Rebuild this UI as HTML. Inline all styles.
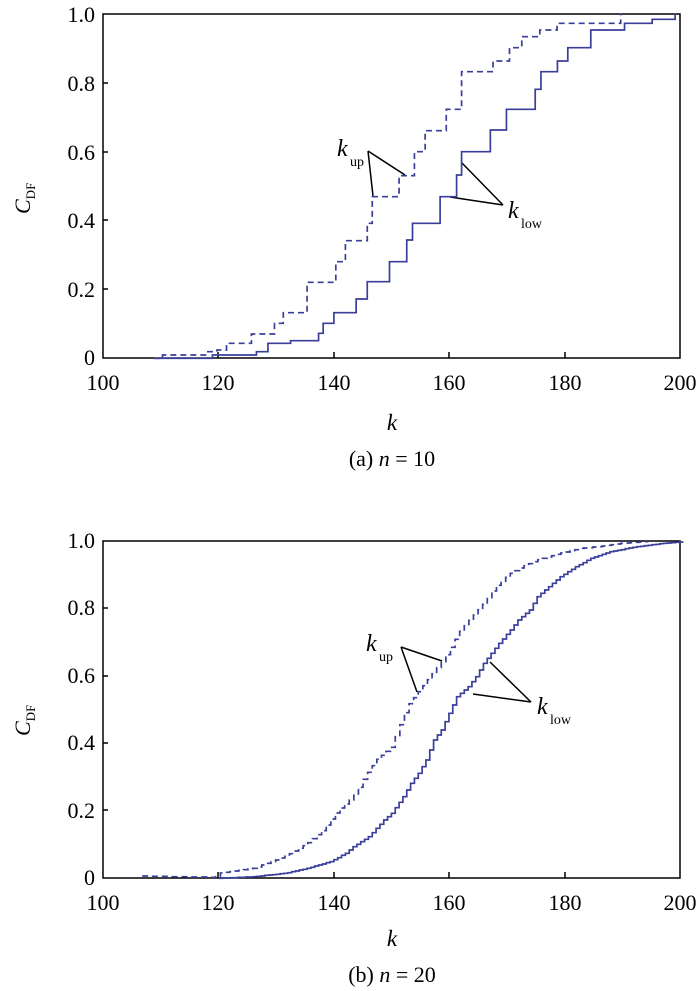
<!DOCTYPE html>
<html><head><meta charset="utf-8"><style>
html,body{margin:0;padding:0;background:#fff}
svg{display:block}
text{font-family:"Liberation Serif",serif;fill:#000}
</style></head><body>
<svg id="s" width="700" height="991" viewBox="0 0 700 991" xmlns="http://www.w3.org/2000/svg">
<g font-size="22" text-anchor="end">
<text x="95" y="22">1.0</text><text x="95" y="91">0.8</text><text x="95" y="160">0.6</text><text x="95" y="228">0.4</text><text x="95" y="297">0.2</text><text x="95" y="365">0</text>
<text x="95" y="548">1.0</text><text x="95" y="615">0.8</text><text x="95" y="683">0.6</text><text x="95" y="750">0.4</text><text x="95" y="818">0.2</text><text x="95" y="885">0</text>
</g>
<g font-size="22" text-anchor="middle">
<text x="103" y="390">100</text><text x="218" y="390">120</text><text x="334" y="390">140</text><text x="449" y="390">160</text><text x="565" y="390">180</text><text x="680" y="390">200</text>
<text x="103" y="910">100</text><text x="218" y="910">120</text><text x="334" y="910">140</text><text x="449" y="910">160</text><text x="565" y="910">180</text><text x="680" y="910">200</text>
<text x="392" y="430" font-style="italic" font-size="23">k</text>
<text x="392" y="946" font-style="italic" font-size="23">k</text>
<text x="392" y="466">(a)  <tspan font-style="italic">n</tspan> = 10</text>
<text x="392" y="982">(b)  <tspan font-style="italic">n</tspan> = 20</text>
</g>
<g font-size="22">
<text transform="translate(30,214) rotate(-90)"><tspan font-style="italic">C</tspan><tspan font-size="13" dy="5">DF</tspan></text>
<text transform="translate(30,736) rotate(-90)"><tspan font-style="italic">C</tspan><tspan font-size="13" dy="5">DF</tspan></text>
<text x="337" y="156" font-style="italic" font-size="24">k</text><text x="350" y="166" font-size="14">up</text>
<text x="508" y="218" font-style="italic" font-size="24">k</text><text x="521" y="228" font-size="14">low</text>
<text x="366" y="651" font-style="italic" font-size="24">k</text><text x="379" y="661" font-size="14">up</text>
<text x="537" y="714" font-style="italic" font-size="24">k</text><text x="550" y="724" font-size="14">low</text>
</g>
<g stroke="#000" stroke-width="1.5" fill="none">
<rect x="103" y="14" width="577" height="344"/>
<rect x="103" y="541" width="577" height="337"/>
<path d="M103 83h5M103 152h5M103 220h5M103 289h5M218 358v-6M334 358v-6M449 358v-6M565 358v-6
M103 608h5M103 676h5M103 743h5M103 810h5M218 878v-6M334 878v-6M449 878v-6M565 878v-6"/>
<path d="M368 151L373 196M368 151L405 175M462 163L503 205M450 197L503 205"/>
<path d="M401 647L417 692M401 647L442 661M490 662L531 702M473 694L531 702"/>
</g>
<g id="a" transform="translate(100,0) scale(0.38344,0.33333)"></g>
<g id="b" transform="translate(100,520) scale(0.38344,0.33333)"></g>
</svg>
<script>
function steps(pts){var d="M"+pts[0][0]+" "+pts[0][1];for(var i=1;i<pts.length;i++){d+="H"+pts[i][0]+"V"+pts[i][1];}return d;}
function smooth(pts,dx){var out=[pts[0].slice()];var x=pts[0][0];var j=0;while(x<pts[pts.length-1][0]){x+=dx;while(j<pts.length-2&&pts[j+1][0]<x)j++;var a=pts[j],b=pts[j+1];var t=Math.min(1,(x-a[0])/(b[0]-a[0]));out.push([x,Math.round(a[1]+t*(b[1]-a[1]))]);}return out;}
function add(id,d,dash){var p=document.createElementNS("http://www.w3.org/2000/svg","path");p.setAttribute("d",d);p.setAttribute("fill","none");p.setAttribute("stroke","#3a3f9a");p.setAttribute("stroke-width","1.7");p.setAttribute("vector-effect","non-scaling-stroke");if(dash)p.setAttribute("stroke-dasharray","6 4");document.getElementById(id).appendChild(p);}
var aS=[[140,1075],[293,1065],[408,1055],[438,1030],[497,1022],[570,1000],[582,970],[610,938],[668,897],[697,845],[755,785],[800,720],[815,670],[887,590],[930,525],[943,455],[1018,390],[1060,328],[1135,268],[1150,215],[1193,183],[1220,143],[1280,90],[1368,70],[1440,58],[1500,40]];
var aD=[[140,1075],[163,1065],[275,1055],[305,1050],[330,1030],[395,1002],[455,970],[478,938],[540,847],[615,785],[640,722],[697,670],[710,590],[780,527],[820,455],[848,392],[903,328],[943,215],[1025,183],[1068,143],[1100,110],[1147,90],[1192,70],[1358,40]];
add("a",steps(aS),false);add("a",steps(aD),true);
var bS=[[310,1075],[400,1070],[480,1060],[540,1045],[600,1025],[640,1000],[660,980],[700,950],[740,900],[760,880],[790,830],[810,790],[830,760],[850,720],[870,660],[890,630],[910,580],[930,530],[960,500],[980,470],[1000,430],[1020,400],[1040,370],[1070,330],[1090,300],[1120,270],[1140,230],[1160,210],[1200,170],[1240,140],[1280,115],[1330,95],[1400,80],[1470,70],[1515,65]];
var bD=[[110,1068],[300,1072],[310,1060],[400,1045],[480,1010],[540,970],[580,930],[620,870],[660,830],[690,770],[720,720],[760,680],[780,620],[800,560],[830,515],[860,470],[890,425],[910,390],[940,330],[970,290],[1000,250],[1030,200],[1070,160],[1100,140],[1140,120],[1200,100],[1250,85],[1300,80],[1360,70],[1420,65]];
add("b",steps(smooth(bS,10)),false);add("b",steps(smooth(bD,12)),true);
</script>
</body></html>
